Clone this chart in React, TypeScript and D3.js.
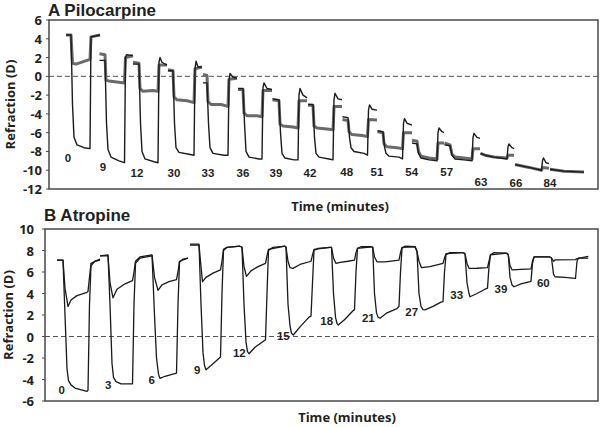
import React from "react";
import * as d3 from "d3";

type Pt = [number, number];

// ---------- Panel A: Pilocarpine ----------
const pilocarpineTicks = [6, 4, 2, 0, -2, -4, -6, -8, -10, -12];
const pilocarpineLabels = ["0", "9", "12", "30", "33", "36", "39", "42", "48", "51", "54", "57", "63", "66", "84"];
const pilocarpineLabelPos: Pt[] = [
  [19, -8.7], [54, -9.65], [88, -10.3], [125, -10.3], [159, -10.3], [194, -10.3], [227, -10.3],
  [261, -10.3], [297.7, -10.2], [328, -10.2], [362.7, -10.2], [397.7, -10.15], [432, -11.25], [467, -11.35], [501, -11.35],
];
// dark trace (one segment per time point)
const pilocarpineDark: Pt[][] = [
  [[17, 4.4], [22, 4.4], [23.5, -3], [25, -6.5], [28, -7.3], [35, -7.6], [41, -7.7], [42, 4.2], [51, 4.4]],
  [[50.5, 1.7], [56, 1.7], [57.5, -5], [59, -7.8], [62, -8.6], [70, -9.0], [75.5, -9.2], [76.5, 2.0], [77.5, 2.3], [84, 2.2]],
  [[84, 1.3], [90, 1.3], [91.5, -5], [93, -8], [96, -8.8], [105, -9.1], [109, -9.2], [110, 1.5], [111, 2.0], [113, 1.5], [118, 1.2]],
  [[119, 0.6], [124, 0.6], [125.5, -5], [127, -7.6], [130, -8.1], [140, -8.3], [145, -8.4], [146, 0.8], [147, 1.6], [149, 1.0], [153, 1.0]],
  [[154, -0.7], [158, -0.7], [159.5, -5], [161, -7.6], [164, -8.2], [175, -8.4], [179, -8.4], [180, -0.5], [181, 0.3], [184, -0.1], [188, -0.2]],
  [[189, -1.3], [194, -1.3], [195.5, -5], [197, -8], [200, -8.6], [210, -8.8], [213, -8.8], [214, -1.2], [215, -0.7], [218, -1.3], [223, -1.4]],
  [[223.5, -2.4], [230, -2.5], [231.5, -6], [233, -8.2], [236, -8.7], [245, -8.9], [249, -8.9], [250, -2], [251, -1.3], [254, -2], [258, -2.3]],
  [[259, -3.0], [264, -3.0], [265.5, -6.5], [267, -8.2], [270, -8.6], [280, -8.8], [284, -8.9], [285, -2.5], [286, -1.8], [289, -2.4], [293, -2.5]],
  [[293.5, -4.3], [299, -4.4], [300.5, -6.5], [302, -7.6], [305, -8.0], [315, -8.2], [318.5, -8.4], [319.5, -3.6], [320.5, -3.05], [323, -3.5], [328, -3.6]],
  [[328.5, -5.8], [334, -5.9], [335.5, -7.5], [337, -8.2], [340, -8.5], [350, -8.6], [353.5, -8.8], [354.5, -5], [355.5, -4.5], [358, -5], [363, -5.2]],
  [[363, -7.1], [368, -7.2], [369.5, -8.2], [372, -8.7], [380, -8.9], [388, -9.0], [389, -6], [390, -5.5], [393, -5.9], [395, -6.0]],
  [[395.5, -7.3], [401, -7.4], [403, -8.4], [406, -8.8], [415, -8.9], [423, -9.0], [424, -6.5], [425, -6.07], [428, -6.5], [431, -6.6]],
  [[431.5, -8.2], [436, -8.4], [445, -8.6], [458, -8.8], [459, -7.5], [460, -7.2], [463, -7.6], [465, -7.7]],
  [[466, -9.4], [480, -9.7], [492.5, -10.0], [493.5, -9.0], [494.5, -8.7], [497, -9.2], [500, -9.3]],
  [[501, -9.9], [515, -10.1], [535, -10.2]],
];
// grey trace
const pilocarpineGrey: Pt[][] = [
  [[17, 4.4], [22, 4.4], [23.5, 1.4], [27, 1.3], [35, 1.6], [41, 1.8], [42, 4.2], [51, 4.4]],
  [[50.5, 2.4], [56, 2.3], [57, -0.4], [60, -0.5], [75.5, -0.7], [76.5, 2.0], [84, 2.2]],
  [[84, 1.5], [90, 1.4], [91, -1.3], [94, -1.6], [104, -1.5], [109, -1.6], [110, 1.2], [118, 1.2]],
  [[119, 0.7], [124, 0.6], [125, -2.2], [128, -2.5], [138, -2.6], [145, -2.8], [146, 0.8], [153, 1.0]],
  [[154, 0.2], [158, 0.1], [159, -2.7], [162, -3.0], [172, -3.0], [179, -3.2], [180, -0.3], [188, -0.2]],
  [[189, -1.4], [194, -1.4], [195, -3.9], [198, -4.2], [208, -4.2], [213, -4.3], [214, -1.5], [223, -1.5]],
  [[223.5, -2.5], [230, -2.6], [231, -5.1], [234, -5.3], [244, -5.4], [249, -5.5], [250, -2.6], [258, -2.6]],
  [[259, -3.05], [264, -3.1], [265, -5.3], [268, -5.5], [278, -5.6], [284, -5.7], [285, -3.2], [293, -3.2]],
  [[293.5, -4.6], [299, -4.7], [300, -5.9], [303, -6.2], [313, -6.3], [318.5, -6.4], [319.5, -4.6], [328, -4.65]],
  [[328.5, -5.9], [334, -6.0], [335, -7.2], [338, -7.5], [348, -7.6], [353.5, -7.7], [354.5, -6], [363, -6.0]],
  [[363, -6.8], [368, -6.9], [369.5, -8.0], [372, -8.5], [380, -8.7], [388, -8.8], [389, -7.1], [395, -7.1]],
  [[395.5, -7.1], [401, -7.3], [403, -8.3], [406, -8.6], [415, -8.7], [423, -8.8], [424, -7.7], [431, -7.7]],
  [[431.5, -8.2], [436, -8.4], [445, -8.6], [458, -8.7], [459, -8.4], [465, -8.4]],
  [[466, -9.4], [480, -9.7], [492.5, -10.0], [493.5, -9.7], [500, -9.8]],
  [[501, -9.9], [515, -10.1], [535, -10.2]],
];

// ---------- Panel B: Atropine ----------
const atropineTicks = [10, 8, 6, 4, 2, 0, -2, -4, -6];
const atropineLabels = ["0", "3", "6", "9", "12", "15", "18", "21", "27", "33", "39", "60"];
const atropineLabelPos: Pt[] = [
  [16.7, -4.98], [63.3, -4.51], [106.7, -4.05], [152.3, -3.12], [194.3, -1.51], [238.3, 0.05],
  [281.7, 1.44], [323.3, 1.69], [366.7, 2.31], [411.7, 3.86], [456, 4.39], [498.3, 5.0],
];
const atropineLarge: Pt[][] = [
  [[12, 7.1], [18, 7.1], [20, 2], [22, -3], [23.5, -4.1], [26, -4.5], [30, -4.8], [42, -5.1], [43, -5.0], [44.5, 3], [46, 6.6], [50, 7.0], [55, 7.1]],
  [[55, 7.5], [63, 7.6], [65, 3], [67, -2.5], [68.5, -3.8], [71, -4.2], [76, -4.4], [87.5, -4.4], [89, 3], [90.5, 6.8], [95, 7.3], [107, 7.5]],
  [[107, 7.6], [109.5, 2], [111.5, -2], [113.5, -3.5], [115, -3.9], [120, -3.7], [131.5, -3.4], [133, 3], [134.5, 6.9], [138, 7.2], [143, 7.3]],
  [[145, 8.6], [154, 8.6], [156, 3], [158, -1.5], [159.5, -2.7], [161, -3.1], [166, -2.7], [175.5, -1.9], [177, 4], [178.5, 8.0], [182, 8.3], [195, 8.4]],
  [[195, 8.4], [197, 8.3], [199, 3], [201, -0.5], [202.5, -1.4], [204, -1.6], [210, -1.0], [220.5, -0.3], [222, 4], [223.5, 8.0], [228, 8.3], [240, 8.4]],
  [[240, 8.4], [241, 8.3], [243, 3], [245, 1], [246.5, 0.3], [248.3, 0.14], [255, 0.9], [264, 1.8], [266, 1.9], [267.5, 5], [269, 8.0], [273, 8.2], [285, 8.3]],
  [[285, 8.3], [286.5, 8.3], [288.5, 4], [290.5, 1.8], [292, 1.2], [293.3, 1.07], [300, 1.6], [308, 2.4], [309.5, 2.5], [311, 6], [312.5, 8.2], [316, 8.35], [326.7, 8.35]],
  [[326.7, 8.35], [327.7, 8.3], [329.5, 4], [331.5, 2.2], [333, 1.8], [335, 1.7], [342, 2.2], [352, 2.6], [354, 2.8], [355.5, 6], [357, 8.2], [360, 8.4], [370, 8.35]],
  [[370, 8.4], [372, 7.9], [374, 4], [376, 2.8], [378, 2.5], [380, 2.47], [388, 2.8], [396, 3.2], [398, 3.24], [399.5, 6], [401, 7.6], [405, 7.8], [418.3, 7.8]],
  [[418.3, 7.8], [420, 7.7], [422, 5], [424, 4], [425, 3.7], [432, 4.0], [440, 4.4], [442.5, 4.5], [444, 6.5], [445.5, 7.6], [449, 7.8], [461.7, 7.75]],
  [[461.7, 7.75], [463.3, 7.6], [465, 5.5], [467, 4.8], [469, 4.63], [476, 4.9], [485, 5.1], [486, 5.15], [487.5, 6.8], [489, 7.4], [505, 7.4]],
  [[505, 7.4], [506.5, 7.3], [508.5, 5.8], [510, 5.56], [520, 5.5], [530.5, 5.4], [532, 7.0], [533.5, 7.3], [543.3, 7.3]],
];
const atropineSmall: Pt[][] = [
  [[12, 7.1], [18, 7.1], [20, 4.5], [23, 2.8], [26, 3.4], [32, 3.8], [42, 4.1], [43, 4.2], [44.5, 5.5], [46, 6.8], [50, 7.0], [55, 7.2]],
  [[55, 7.5], [63, 7.5], [65, 5], [68, 3.6], [72, 4.4], [80, 4.9], [87.5, 5.2], [89, 6], [90.5, 7.0], [95, 7.4], [107, 7.6]],
  [[107, 7.6], [109.5, 5.5], [113, 4.3], [117, 4.8], [124, 5.1], [131.5, 5.3], [133, 6], [134.5, 7], [143, 7.3]],
  [[145, 8.5], [154, 8.5], [156, 6.5], [157.5, 5.1], [161, 5.5], [168, 5.9], [175.5, 6.2], [177, 7], [178.5, 8.1], [182, 8.3], [195, 8.4]],
  [[195, 8.4], [197, 8.3], [199, 6.5], [201.5, 5.6], [206, 6.1], [213, 6.5], [220.5, 6.8], [222, 7.5], [223.5, 8.1], [240, 8.4]],
  [[240, 8.4], [241, 8.3], [243, 7], [245, 6.4], [248, 6.34], [255, 6.7], [266, 7.0], [267.5, 7.6], [269, 8.1], [285, 8.3]],
  [[285, 8.3], [286.5, 8.3], [288.5, 7.3], [291, 6.8], [295, 6.9], [303, 7.0], [309.5, 7.1], [311, 7.8], [312.5, 8.2], [326.7, 8.35]],
  [[326.7, 8.35], [327.7, 8.3], [329.5, 7.4], [332, 6.95], [340, 6.95], [354, 7.1], [355.5, 7.8], [357, 8.3], [370, 8.35]],
  [[370, 8.35], [372, 7.9], [374, 7], [376.5, 6.4], [385, 6.5], [398, 6.8], [399.5, 7.3], [401, 7.7], [418.3, 7.8]],
  [[418.3, 7.8], [420, 7.7], [422, 6.8], [424, 6.34], [432, 6.35], [442.5, 6.4], [444, 7], [445.5, 7.6], [461.7, 7.75]],
  [[461.7, 7.75], [463.3, 7.6], [465, 6.6], [467, 6.2], [476, 6.25], [486, 6.3], [487.5, 7.0], [489, 7.4], [505, 7.4]],
  [[505, 7.4], [506.5, 7.3], [508.5, 7.0], [510, 7.12], [530.5, 7.15], [532, 7.25], [543.3, 7.45]],
];

const W = 600;
const H = 427;
const tickFont = "'Open Sans', 'Liberation Sans', Arial, sans-serif";
const titleFont = "'Liberation Sans', Arial, sans-serif";
const labelFont = "'Liberation Sans', Arial, sans-serif";

type PanelProps = {
  title: string;
  titleY: number;
  left: number;
  right: number;
  top: number;
  bottom: number;
  tDomain: [number, number];
  yTicks: number[];
  tickRight: number;
  yTitleX: number;
  xTitleX: number;
  xTitleY: number;
  traces: { segs: Pt[][]; color: string; width: number }[];
  labels: string[];
  labelPos: Pt[];
};

function Panel(p: PanelProps) {
  const x = d3.scaleLinear().domain(p.tDomain).range([p.left, p.right]);
  const yMax = d3.max(p.yTicks) as number;
  const yMin = d3.min(p.yTicks) as number;
  const y = d3.scaleLinear().domain([yMin, yMax]).range([p.bottom, p.top]);
  const line = d3
    .line<Pt>()
    .x((d) => x(d[0]))
    .y((d) => y(d[1]));
  const frame = "#4a4a4a";
  return (
    <g>
      <text x={p.left - 1} y={p.titleY} fontFamily={titleFont} fontWeight={700} fontSize={17} fill="#231f20">
        {p.title}
      </text>
      <line x1={p.left} x2={p.right} y1={y(0)} y2={y(0)} stroke="#555" strokeWidth={1} strokeDasharray="5,3" />
      {p.traces.map((tr, i) => (
        <g key={i}>
          {tr.segs.map((s, j) => (
            <path key={j} d={line(s) || ""} fill="none" stroke={tr.color} strokeWidth={tr.width} strokeLinejoin="round" strokeLinecap="butt" />
          ))}
        </g>
      ))}
      {p.labels.map((l, i) => (
        <text
          key={l + i}
          x={x(p.labelPos[i][0])}
          y={y(p.labelPos[i][1])}
          textAnchor="middle"
          dominantBaseline="central"
          fontFamily={labelFont}
          fontWeight={700}
          fontSize={11.5}
          fill="#231f20"
        >
          {l}
        </text>
      ))}
      <rect x={p.left} y={p.top} width={p.right - p.left} height={p.bottom - p.top} fill="none" stroke={frame} strokeWidth={1.5} />
      {p.yTicks.map((t) => (
        <g key={t}>
          <line x1={p.left - 3} x2={p.left} y1={y(t)} y2={y(t)} stroke={frame} strokeWidth={1} />
          <text
            x={p.tickRight}
            y={y(t)}
            textAnchor="end"
            dominantBaseline="central"
            fontFamily={tickFont}
            fontWeight={700}
            fontSize={13}
            fill="#231f20"
          >
            {t}
          </text>
        </g>
      ))}
      <text
        transform={`translate(${p.yTitleX},${(p.top + p.bottom) / 2}) rotate(-90)`}
        textAnchor="middle"
        dominantBaseline="central"
        fontFamily={tickFont}
        fontWeight={700}
        fontSize={13}
        fill="#231f20"
      >
        Refraction (D)
      </text>
      <text x={p.xTitleX} y={p.xTitleY} textAnchor="middle" fontFamily={tickFont} fontWeight={700} fontSize={13} fill="#231f20">
        Time (minutes)
      </text>
    </g>
  );
}

export default function App() {
  return (
    <svg
      width={W}
      height={H}
      viewBox={`0 0 ${W} ${H}`}
      style={{ position: "fixed", left: 0, top: 0, background: "#fff" }}
    >
      <rect x={0} y={0} width={W} height={H} fill="#fff" />
      <Panel
        title="A Pilocarpine"
        titleY={15.5}
        left={49}
        right={598}
        top={20}
        bottom={189}
        tDomain={[0, 549]}
        yTicks={pilocarpineTicks}
        tickRight={42}
        yTitleX={10}
        xTitleX={340}
        xTitleY={211}
        traces={[
          { segs: pilocarpineGrey, color: "#6a6a6a", width: 3 },
          { segs: pilocarpineDark, color: "#1c1c1c", width: 1.4 },
        ]}
        labels={pilocarpineLabels}
        labelPos={pilocarpineLabelPos}
      />
      <Panel
        title="B Atropine"
        titleY={221}
        left={45}
        right={598}
        top={229}
        bottom={401}
        tDomain={[0, 553]}
        yTicks={atropineTicks}
        tickRight={34}
        yTitleX={8}
        xTitleX={347}
        xTitleY={422}
        traces={[
          { segs: atropineSmall, color: "#1a1a1a", width: 1.3 },
          { segs: atropineLarge, color: "#1a1a1a", width: 1.3 },
        ]}
        labels={atropineLabels}
        labelPos={atropineLabelPos}
      />
    </svg>
  );
}
